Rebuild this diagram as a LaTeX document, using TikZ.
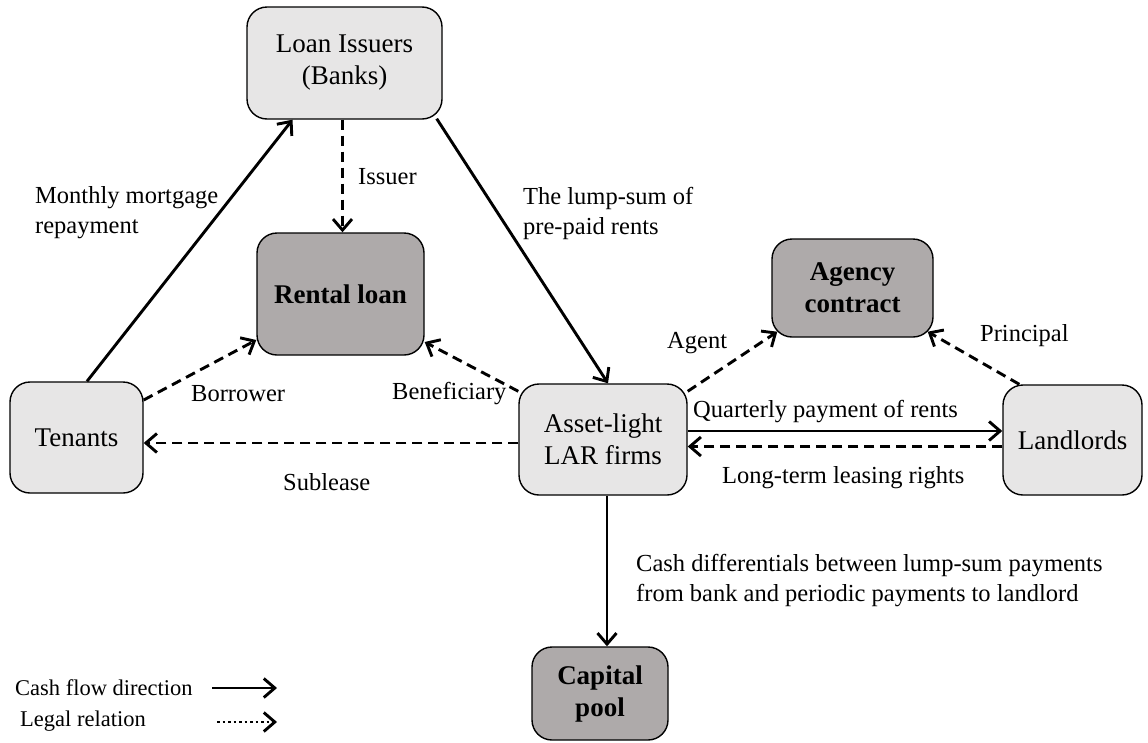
\documentclass[tikz,border=0pt]{standalone}
\usepackage{fontspec}
\setmainfont{Liberation Serif}
\usetikzlibrary{arrows.meta}
\definecolor{boxlight}{RGB}{231,230,230}
\definecolor{boxdark}{RGB}{174,170,170}
\tikzset{
  box/.style={draw=black, line width=1.4pt, rounded corners=20pt, align=center, inner sep=0pt,
    font=\fontsize{27}{32}\selectfont},
  lbox/.style={box, fill=boxlight},
  dbox/.style={box, fill=boxdark, font=\fontsize{27}{32}\selectfont\bfseries},
  lab/.style={inner sep=0pt, align=left, anchor=west, font=\fontsize{24.5}{30}\selectfont},
  leg/.style={inner sep=0pt, anchor=west, font=\fontsize{22.5}{27}\selectfont},
  cash/.style={line width=2.9pt, -{Straight Barb[length=11pt,width=19pt,line width=2.9pt]}},
  legal/.style={cash, dash pattern=on 10pt off 6pt},
  dotarrow/.style={cash, dash pattern=on 2.5pt off 3pt}
}
\begin{document}
\begin{tikzpicture}[x=1pt,y=-1pt]
\useasboundingbox[fill=white] (0,0) rectangle (1148,742);
% boxes
\node[lbox, minimum width=195pt, minimum height=112pt] (banks) at (344.5,63) {Loan Issuers\\(Banks)};
\node[dbox, minimum width=167pt, minimum height=122pt] (rental) at (340.5,294) {Rental loan};
\node[dbox, minimum width=161pt, minimum height=98pt] (agency) at (852.5,288) {Agency\\contract};
\node[lbox, minimum width=133pt, minimum height=111pt] (tenants) at (76.5,437.5) {Tenants};
\node[lbox, minimum width=168pt, minimum height=111pt] (asset) at (603,439.5) {Asset-light\\LAR firms};
\node[lbox, minimum width=139pt, minimum height=110pt] (landlords) at (1072.5,440) {Landlords};
\node[dbox, minimum width=136pt, minimum height=93pt] (capital) at (600,693.5) {Capital\\pool};
% connectors
\draw[cash] ([xshift=10.5pt]tenants.north) -- ([xshift=-52pt]banks.south);
\draw[cash] ([xshift=-6pt,yshift=1pt]banks.south east) -- ([xshift=5pt]asset.north);
\draw[legal] ([xshift=-2pt]banks.south) -- ([xshift=-2pt]banks.south |- rental.north);
\draw[legal] ([yshift=37.5pt]tenants.east) -- ([yshift=-46pt]rental.west);
\draw[legal] ([yshift=-8pt]asset.north west) -- ([yshift=-48pt]rental.east);
\draw[legal] ([yshift=-3.5pt]asset.west) -- ([yshift=-3.5pt]asset.west -| tenants.east);
\draw[legal] ([yshift=-8pt]asset.north east) -- ([xshift=6pt,yshift=6pt]agency.south west);
\draw[legal] ([xshift=17pt]landlords.north west) -- ([xshift=-6pt,yshift=6pt]agency.south east);
\draw[cash] ([yshift=8.5pt]asset.east) -- ([yshift=8.5pt]asset.east -| landlords.west);
\draw[legal] ([yshift=-6.5pt]landlords.west) -- ([yshift=-6.5pt]landlords.west -| asset.east);
\draw[cash] ([xshift=4pt]asset.south) -- ([xshift=4pt]asset.south |- capital.north);
% labels
\node[lab] (lmonthly) at (35,213) {Monthly mortgage\\repayment};
\node[lab] (lissuer) at (358,177) {Issuer};
\node[lab] (llump) at (523,213) {The lump-sum of\\pre-paid rents};
\node[lab] (lagent) at (667,343) {Agent};
\node[lab] (lprincipal) at (980,336) {Principal};
\node[lab] (lborrower) at (191,394) {Borrower};
\node[lab] (lbenef) at (392,394) {Beneficiary};
\node[lab] (lquarter) at (693,412) {Quarterly payment of rents};
\node[lab] (llong) at (722,478) {Long-term leasing rights};
\node[lab] (lsub) at (283,482) {Sublease};
\node[lab] (lcashdiff) at (636,581) {Cash differentials between lump-sum payments\\from bank and periodic payments to landlord};
% legend
\node[leg] (legcash) at (15,688) {Cash flow direction};
\node[leg] (leglegal) at (20,721) {Legal relation};
\coordinate (lc1) at (212,688);
\coordinate (lc2) at (277,688);
\coordinate (ll1) at (217,722);
\coordinate (ll2) at (277,722);
\draw[cash] (lc1) -- (lc2);
\draw[dotarrow] (ll1) -- (ll2);
\end{tikzpicture}
\end{document}
